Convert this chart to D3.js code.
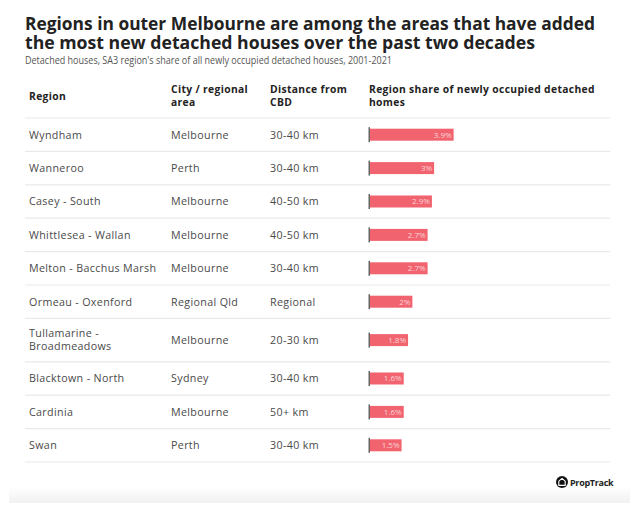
<!DOCTYPE html>
<html><head><meta charset="utf-8">
<script src="https://cdn.jsdelivr.net/npm/d3@7"></script>
<style>body{margin:0;background:#fff}svg{display:block}text{font-family:"Open Sans",sans-serif}</style>
</head><body><svg id="c" width="639" height="521"></svg>
<script>
const regions = ["Wyndham","Wanneroo","Casey - South","Whittlesea - Wallan","Melton - Bacchus Marsh","Ormeau - Oxenford","Tullamarine - Broadmeadows","Blacktown - North","Cardinia","Swan"];
const cities = ["Melbourne","Perth","Melbourne","Melbourne","Melbourne","Regional Qld","Melbourne","Sydney","Melbourne","Perth"];
const distances = ["30-40 km","30-40 km","40-50 km","40-50 km","30-40 km","Regional","20-30 km","30-40 km","50+ km","30-40 km"];
const shares = [3.9,3.0,2.9,2.7,2.7,2.0,1.8,1.6,1.6,1.5];
const shareLabels = ["3.9%","3%","2.9%","2.7%","2.7%","2%","1.8%","1.6%","1.6%","1.5%"];
const regionLines = [["Wyndham"],["Wanneroo"],["Casey - South"],["Whittlesea - Wallan"],["Melton - Bacchus Marsh"],["Ormeau - Oxenford"],["Tullamarine -","Broadmeadows"],["Blacktown - North"],["Cardinia"],["Swan"]];
const headers = [["Region"],["City / regional","area"],["Distance from","CBD"],["Region share of newly occupied detached","homes"]];

const svg = d3.select("#c");
const L = 25, R = 610;
const colX = [29, 171, 270, 369];

// title
const title = svg.append("g").attr("fill","#222").attr("font-weight",700).attr("font-size",17.5);
title.append("text").attr("x",L).attr("y",30).attr("textLength",570).attr("lengthAdjust","spacingAndGlyphs").text("Regions in outer Melbourne are among the areas that have added");
title.append("text").attr("x",L).attr("y",48.5).attr("textLength",510).attr("lengthAdjust","spacingAndGlyphs").text("the most new detached houses over the past two decades");
svg.append("text").attr("x",L).attr("y",63.5).attr("font-size",10.5).attr("fill","#555").attr("textLength",367).attr("lengthAdjust","spacingAndGlyphs").text("Detached houses, SA3 region's share of all newly occupied detached houses, 2001-2021");

// header
headers.forEach((h,i)=>{
  const t = svg.append("text").attr("x",colX[i]).attr("font-size",10.3).attr("font-weight",700).attr("fill","#222").attr("letter-spacing",0.35);
  const ys = h.length===1 ? [99.5] : [92.5,106];
  h.forEach((s,j)=>t.append("tspan").attr("x",colX[i]).attr("y",ys[j]).text(s));
});

// row geometry
const top0 = 118, baseH = 33.4, extra = 10;
const heights = regionLines.map(l => baseH + (l.length-1)*extra);
const tops = []; heights.reduce((acc,h)=>{tops.push(acc);return acc+h;}, top0);
const yTop = d3.scaleOrdinal().domain(regions).range(tops);
const yH = d3.scaleOrdinal().domain(regions).range(heights);
const x = d3.scaleLinear().domain([0,4]).range([colX[3], colX[3]+86.8]);

const lineCol = "#e9e9e9";
svg.append("line").attr("x1",L).attr("x2",R).attr("y1",top0).attr("y2",top0).attr("stroke",lineCol).attr("stroke-width",1.2);

const rows = svg.selectAll("g.row").data(regions).join("g").attr("class","row")
  .attr("transform",d=>`translate(0,${yTop(d)})`);
rows.append("line").attr("x1",L).attr("x2",R).attr("y1",d=>yH(d)).attr("y2",d=>yH(d)).attr("stroke",lineCol).attr("stroke-width",1.2);
const fs = 10.7, ls = 0.35, tc = "#4a4a4a";
rows.each(function(d,i){
  const g = d3.select(this); const h = yH(d); const cy = h/2;
  const tl = regionLines[i];
  const t = g.append("text").attr("font-size",fs).attr("letter-spacing",ls).attr("fill",tc);
  tl.forEach((s,j)=>t.append("tspan").attr("x",colX[0]).attr("y",cy + 3.8 + (j-(tl.length-1)/2)*13).text(s));
  g.append("text").attr("x",colX[1]).attr("y",cy+3.8).attr("font-size",fs).attr("letter-spacing",ls).attr("fill",tc).text(cities[i]);
  g.append("text").attr("x",colX[2]).attr("y",cy+3.8).attr("font-size",fs).attr("letter-spacing",ls).attr("fill",tc).text(distances[i]);
  g.append("rect").attr("x",x(0)).attr("y",cy-6).attr("width",x(shares[i])-x(0)).attr("height",12).attr("fill","#f1636f");
  g.append("rect").attr("x",x(0)-0.5).attr("y",cy-7.5).attr("width",1.5).attr("height",15).attr("fill","#666");
  g.append("text").attr("x",x(shares[i])-2).attr("y",cy+3).attr("text-anchor","end").attr("font-size",8).attr("fill","#fbd3d7").text(shareLabels[i]);
});

// footer shadow band
const grad = svg.append("defs").append("linearGradient").attr("id","gb").attr("x1",0).attr("x2",0).attr("y1",0).attr("y2",1);
grad.append("stop").attr("offset",0).attr("stop-color","#fff");
grad.append("stop").attr("offset",1).attr("stop-color","#f1f1f1");
svg.append("rect").attr("x",9).attr("y",487).attr("width",621).attr("height",16).attr("fill","url(#gb)");

// logo
const lg = svg.append("g").attr("transform","translate(562,482)");
lg.append("circle").attr("r",6).attr("fill","#111");
lg.append("path").attr("d","M0,-3.6 L3.2,-0.8 L3.2,3.4 L-3.2,3.4 L-3.2,-0.8 Z").attr("fill","none").attr("stroke","#fff").attr("stroke-width",1.1);
svg.append("text").attr("x",570).attr("y",485.5).attr("font-size",9).attr("font-weight",700).attr("fill","#222").attr("letter-spacing",-0.3).text("PropTrack");
</script></body></html>
